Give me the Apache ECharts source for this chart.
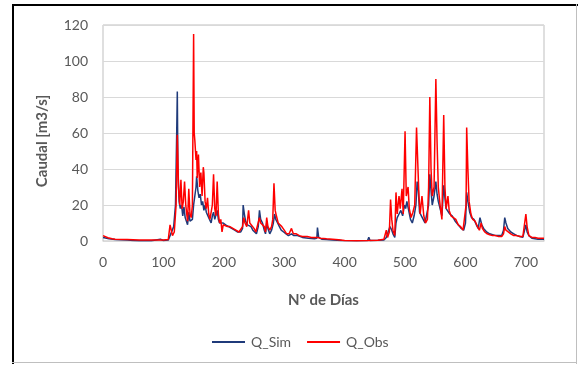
<!DOCTYPE html>
<html>
<head>
<meta charset="utf-8">
<script src="https://cdn.jsdelivr.net/npm/echarts@6/dist/echarts.min.js"></script>
<style>
html,body{margin:0;padding:0;background:#fff;}
#chart{width:579px;height:365px;}
</style>
</head>
<body>
<div id="chart"></div>
<script>
var obsDays = [0,3,8,15,20,40,60,80,100,108,111,113,115,118,121,123,125,127,129,131,133,135,137,139,140,142,144,146,148,150,151,152,154,155,156,158,160,162,164,166,167,169,171,173,175,177,179,181,183,185,187,189,191,193,195,197,199,202,206,210,215,220,225,228,231,233,235,238,241,243,246,250,253,256,259,261,264,267,269,271,273,276,279,281,283,285,287,290,293,296,300,304,308,312,315,320,325,330,338,345,355,357,360,370,380,390,400,420,440,455,465,469,471,474,476,478,480,483,485,487,490,492,495,497,500,502,505,507,510,513,516,519,521,523,525,528,531,534,537,539,541,543,545,548,551,553,555,558,561,564,566,568,571,573,576,580,584,588,592,596,599,601,602,604,606,609,612,616,620,623,626,628,632,636,640,645,650,655,660,663,665,667,670,675,680,685,690,695,698,700,702,705,710,715,720,730];
var obsQ = [3,2.2,1.8,1.3,1,0.8,0.6,0.5,0.5,0.8,9,6,3,5,20,59,30,20,34,18,22,33,20,14,11,29,15,13,20,115,60,56,45,50,35,48,30,38,25,41,38,22,18,24,15,12,11,20,37,18,14,33,15,10,12,5,9,10,8,8,7,6,5,6,8,13,10,8,17,10,9,7,5,4,13,10,11,8,5,13,8,6,8,12,32,17,14,10,9,8,6,4,4,7,4,4,3,2.5,2.5,2,2,3,1.5,1.2,1,0.7,0.3,0.2,0.3,0.4,1,6,2,5,23,12,6,3,27,15,25,18,29,15,61,25,30,18,13,16,20,63,64,25,15,25,14,10,12,30,80,40,25,30,90,55,30,20,12,70,30,18,25,17,14,13,12,9,8,6,5,20,63,40,22,15,12,11,8,6,10,7,5,4,3.5,3,3,2.5,2.5,4,8,6,6,4,3,3,2.5,2.5,3,15,8,3,2,2,1.5,1.5];

// Simulated flow (Q_Sim)
var simDays = [0,3,10,20,40,50,60,80,95,100,108,111,114,117,120,122,123,124,126,128,130,132,134,136,138,140,142,144,146,148,150,152,154,155,157,159,161,163,165,167,169,171,173,175,177,179,181,183,185,187,189,191,193,196,199,203,208,213,218,223,228,231,232,234,236,239,242,245,248,251,254,257,259,261,264,267,269,271,273,276,279,282,284,286,289,292,295,299,303,307,312,316,322,330,340,350,354,355,357,362,370,380,395,420,438,440,442,455,465,469,472,475,478,480,483,485,487,490,493,496,499,501,503,506,509,512,515,518,520,522,524,527,530,533,536,539,541,543,545,548,551,553,555,558,561,564,566,568,571,574,578,583,588,593,597,600,602,604,607,610,614,618,621,624,627,630,635,640,645,650,655,660,663,665,667,670,675,680,685,690,695,698,700,702,705,710,720,730];
var simQ = [2,1.5,1.2,0.8,0.6,0.3,0.2,0.2,1,0.3,0.5,3,4,8,20,60,83,40,22,18,20,14,19,13,12,9,16,11,10,12,20,25,30,36,28,24,26,20,22,17,20,16,15,13,12,10,14,16,12,11,17,12,10,9,10,9,8,7,6,5,5,7,20,15,11,9,10,8,6,5,4,8,17,12,10,6,4,10,7,4,6,10,15,12,10,8,6,5,4,3,4,3,3,2,1.5,1.3,1.5,7.5,2,1,0.8,0.6,0.3,0.2,0.3,2,0.3,0.4,0.6,2,1,8,6,4,2,10,13,15,17,14,20,18,22,17,12,10,14,20,33,28,16,14,12,10,11,20,37,28,20,25,33,26,22,18,14,31,24,18,17,15,14,11,9,7,6,10,27,22,16,13,12,9,7,13,9,7,5,4,3.5,3,3,3,6,13,10,7,5,4,3,2.5,2,2,9,5,3,1.5,1,1];

var xTicks = [0,100,200,300,400,500,600,700];
var yTicks = [0,20,40,60,80,100,120];

function pairs(d, q){ return d.map(function(v,i){ return [v, q[i]]; }); }

var chart = echarts.init(document.getElementById('chart'), null, {renderer:'canvas'});
var FONT = 'Lato';
chart.setOption({
  animation:false,
  backgroundColor:'#ffffff',
  textStyle:{fontFamily:FONT},
  grid:{left:103,right:35,top:25,bottom:124,show:true,borderColor:'#bfbfbf',borderWidth:1,backgroundColor:'transparent'},
  xAxis:{
    type:'value', min:xTicks[0], max:730, interval:100,
    name:'N° de Días', nameLocation:'middle', nameGap:52,
    nameTextStyle:{fontFamily:FONT,fontSize:15,fontWeight:'bold',color:'#595959'},
    axisLine:{show:true,lineStyle:{color:'#d9d9d9'}},
    axisTick:{show:false},
    splitLine:{show:false},
    axisLabel:{color:'#595959',fontSize:14,margin:14,showMaxLabel:false,fontFamily:FONT}
  },
  yAxis:{
    type:'value', min:yTicks[0], max:yTicks[yTicks.length-1], interval:20,
    axisLine:{show:false}, axisTick:{show:false},
    splitLine:{lineStyle:{color:'#d9d9d9',width:1}},
    axisLabel:{color:'#595959',fontSize:14,margin:15,fontFamily:FONT}
  },
  legend:{
    left:207, top:330, itemWidth:33, itemHeight:2, itemGap:16, icon:'rect',
    textStyle:{color:'#595959',fontSize:14,fontFamily:FONT,padding:[0,0,0,1]},
    data:['Q_Sim','Q_Obs']
  },
  graphic:[
    {type:'text', x:42, y:141, rotation:Math.PI/2, style:{text:'Caudal [m3/s]', fill:'#595959', font:'bold 15px '+FONT, textAlign:'center', textVerticalAlign:'middle'}},
    {type:'rect', shape:{x:12,y:4,width:566,height:2}, style:{fill:'#000'}},
    {type:'rect', shape:{x:12,y:4,width:2,height:360}, style:{fill:'#000'}},
    {type:'rect', shape:{x:576,y:4,width:1,height:360}, style:{fill:'#bfbfbf'}},
    {type:'rect', shape:{x:12,y:362,width:565,height:1}, style:{fill:'#bfbfbf'}}
  ],
  series:[
    {name:'Q_Sim', type:'line', data:pairs(simDays, simQ), showSymbol:false, symbol:'none', color:'#1f3a7a', lineStyle:{width:1.5,color:'#1f3a7a'}, z:2},
    {name:'Q_Obs', type:'line', data:pairs(obsDays, obsQ), showSymbol:false, symbol:'none', color:'#ff0000', lineStyle:{width:1.5,color:'#ff0000'}, z:3}
  ]
});
</script>
</body>
</html>
